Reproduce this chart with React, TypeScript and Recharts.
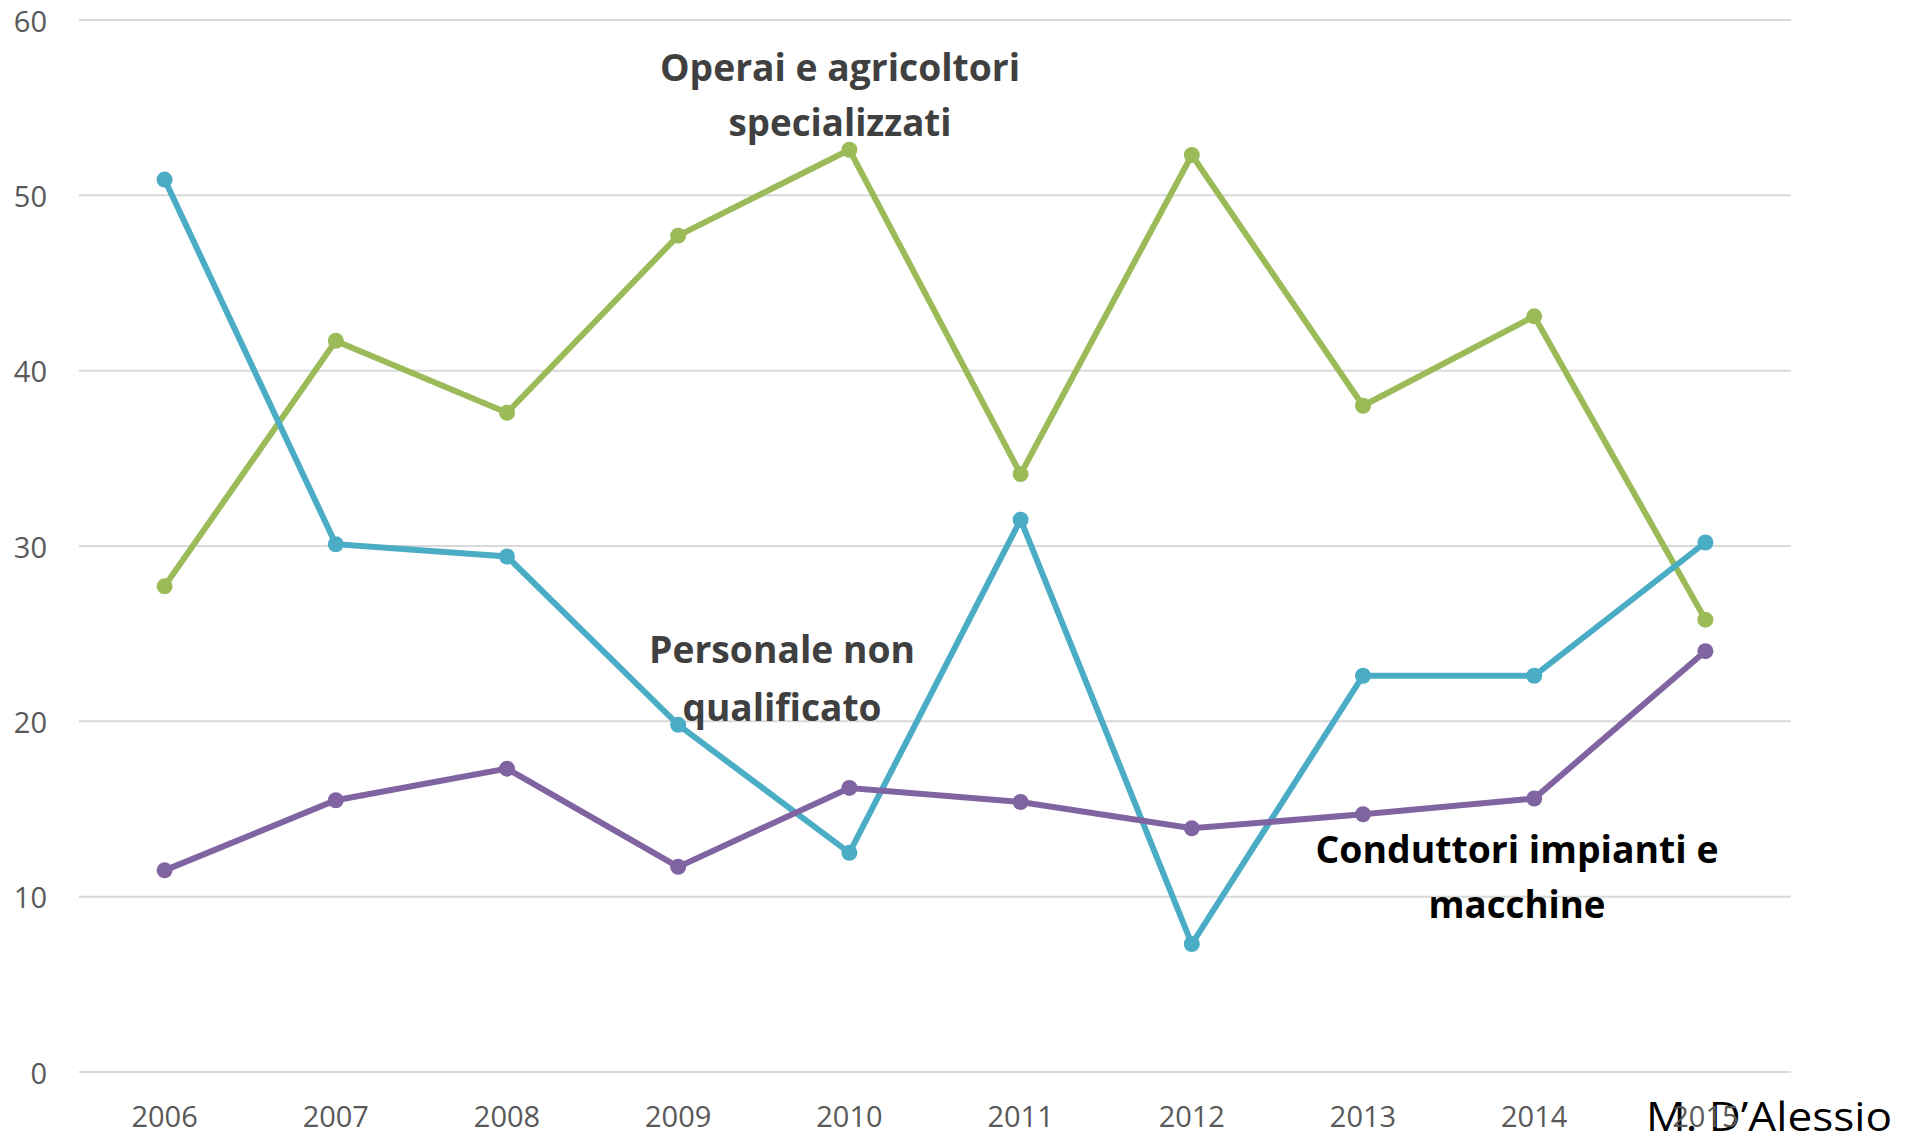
import React from "react"
import { LineChart, Line, XAxis, YAxis, CartesianGrid } from "recharts"

const years = ["2006", "2007", "2008", "2009", "2010", "2011", "2012", "2013", "2014", "2015"]
const operai = [27.7, 41.7, 37.6, 47.7, 52.6, 34.1, 52.3, 38.0, 43.1, 25.8]
const personale = [50.9, 30.1, 29.4, 19.8, 12.5, 31.5, 7.3, 22.6, 22.6, 30.2]
const conduttori = [11.5, 15.5, 17.3, 11.7, 16.2, 15.4, 13.9, 14.7, 15.6, 24.0]
const yTicks = [0, 10, 20, 30, 40, 50, 60]

const W = 1915
const H = 1135

const data = years.map((year, i) => ({
  year,
  operai: operai[i],
  personale: personale[i],
  conduttori: conduttori[i],
}))

const FONT = "'Open Sans', 'Noto Sans', sans-serif"

function YTick(props: any) {
  return (
    <text
      x={47}
      y={props.y}
      textAnchor="end"
      dominantBaseline="central"
      fontSize={29}
      fontFamily={FONT}
      fill="#595959"
    >
      {props.payload.value}
    </text>
  )
}

function XTick(props: any) {
  return (
    <text
      x={props.x}
      y={1115}
      textAnchor="middle"
      dominantBaseline="central"
      fontSize={29}
      fontFamily={FONT}
      fill="#595959"
    >
      {props.payload.value}
    </text>
  )
}

function Label({ x, y, w, text, color }: { x: number; y: number; w: number; text: string; color: string }) {
  return (
    <text
      x={x}
      y={y}
      textAnchor="middle"
      dominantBaseline="central"
      fontSize={37}
      fontWeight={700}
      fontFamily={FONT}
      fill={color}
      textLength={w}
      lengthAdjust="spacingAndGlyphs"
    >
      {text}
    </text>
  )
}

export default function App() {
  const dot = (color: string) => ({ r: 8, fill: color, stroke: color, strokeWidth: 0 })
  return (
    <div style={{ position: "fixed", left: 0, top: 0, width: W, height: H, background: "#fff" }}>
      {/* signature sits under the chart so the 2015 tick shows through it */}
      <svg width={W} height={H} style={{ position: "absolute", left: 0, top: 0 }}>
        <text
          x={1646}
          y={1115}
          dominantBaseline="central"
          fontSize={40}
          fontFamily={FONT}
          fill="#000000"
          textLength={246}
          lengthAdjust="spacingAndGlyphs"
        >
          M. D’Alessio
        </text>
      </svg>
      <div style={{ position: "absolute", left: 0, top: 0 }}>
        <LineChart width={W} height={H} data={data} margin={{ top: 20, right: 124, bottom: 0, left: 0 }}>
          <CartesianGrid vertical={false} stroke="#D9D9D9" strokeWidth={2} />
          <XAxis
            dataKey="year"
            axisLine={false}
            tickLine={false}
            height={63}
            tick={<XTick />}
            interval={0}
            padding={{ left: 85.6, right: 85.6 }}
          />
          <YAxis
            domain={[0, 60]}
            ticks={yTicks}
            width={79}
            axisLine={false}
            tickLine={false}
            tick={<YTick />}
          />
          <Line
            dataKey="operai"
            stroke="#9BBB59"
            strokeWidth={6}
            dot={dot("#9BBB59")}
            activeDot={false}
            isAnimationActive={false}
          />
          <Line
            dataKey="personale"
            stroke="#4BACC6"
            strokeWidth={6}
            dot={dot("#4BACC6")}
            activeDot={false}
            isAnimationActive={false}
          />
          <Line
            dataKey="conduttori"
            stroke="#8064A2"
            strokeWidth={6}
            dot={dot("#8064A2")}
            activeDot={false}
            isAnimationActive={false}
          />
        </LineChart>
      </div>
      <svg
        width={W}
        height={H}
        style={{ position: "absolute", left: 0, top: 0, pointerEvents: "none" }}
      >
        <Label x={840} y={66} w={360} text="Operai e agricoltori" color="#404040" />
        <Label x={840} y={121} w={223} text="specializzati" color="#404040" />
        <Label x={782} y={648} w={266} text="Personale non" color="#404040" />
        <Label x={782} y={706} w={199} text="qualificato" color="#404040" />
        <Label x={1517} y={848} w={403} text="Conduttori impianti e" color="#000000" />
        <Label x={1517} y={903} w={177} text="macchine" color="#000000" />
      </svg>
    </div>
  )
}
